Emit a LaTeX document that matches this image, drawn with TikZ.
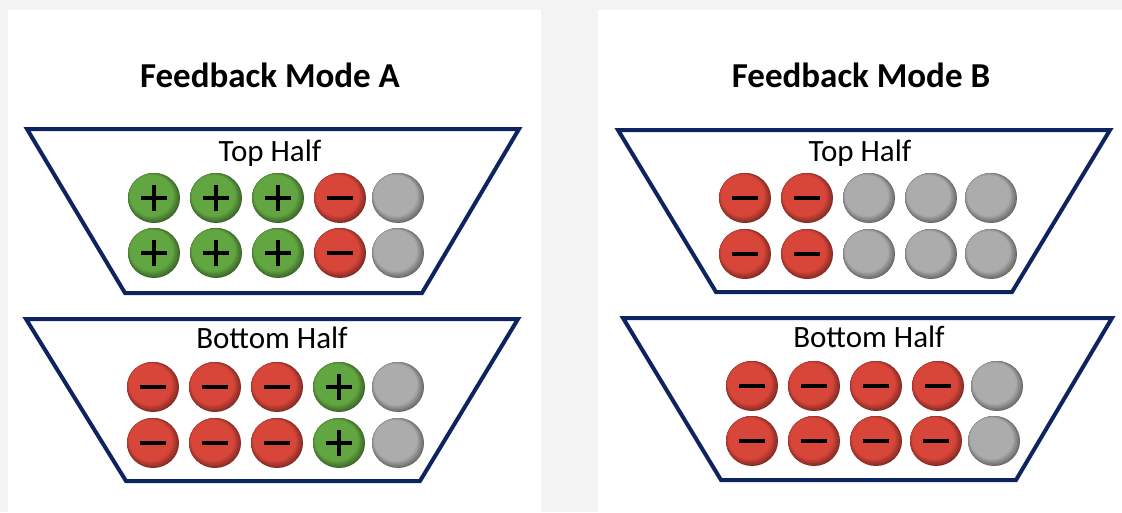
\documentclass[tikz,border=0pt]{standalone}
\usepackage{fontspec}
\setmainfont{Carlito}
\usetikzlibrary{shapes.geometric}

\definecolor{frame}{RGB}{14,36,96}
\definecolor{page}{RGB}{243,243,243}
\definecolor{posgreen}{RGB}{98,166,66}
\definecolor{negred}{RGB}{216,70,58}
\definecolor{neutgray}{RGB}{172,172,172}

% dark rim towards the lower right, flat face
\newcommand\chargeball[1]{%
  \fill[#1!60!black] (path picture bounding box.center) ellipse (27pt and 26pt);
  \fill[#1!70!black] ([shift={(-0.6pt,0.6pt)}]path picture bounding box.center) ellipse (25.8pt and 24.8pt);
  \fill[#1!80!black] ([shift={(-1.2pt,1.2pt)}]path picture bounding box.center) ellipse (24.6pt and 23.6pt);
  \fill[#1!89!black] ([shift={(-1.8pt,1.8pt)}]path picture bounding box.center) ellipse (23.4pt and 22.4pt);
  \fill[#1!96!black] ([shift={(-2.2pt,2.2pt)}]path picture bounding box.center) ellipse (22.4pt and 21.4pt);
  \fill[#1] ([shift={(-2.4pt,2.4pt)}]path picture bounding box.center) ellipse (21.4pt and 20.4pt);}

\tikzset{
  ball/.style={ellipse, minimum width=52pt, minimum height=50pt, inner sep=0pt},
  poscharge/.style={ball,
    path picture={\chargeball{posgreen}
      \draw[line width=3.2pt]
      ([xshift=-13pt]path picture bounding box.center) -- ++(26pt,0)
      ([yshift=-13pt]path picture bounding box.center) -- ++(0,26pt);}},
  negcharge/.style={ball,
    path picture={\chargeball{negred}
      \draw[line width=4pt]
      ([xshift=-13pt]path picture bounding box.center) -- ++(26pt,0);}},
  neutral/.style={ball, path picture={\chargeball{neutgray}}},
  bucket/.style={draw=frame, line width=4pt, line join=miter},
  title/.style={font=\fontsize{35}{40}\selectfont\bfseries, anchor=base},
  half/.style={font=\fontsize{31}{36}\selectfont, anchor=base}
}

\begin{document}
\begin{tikzpicture}[x=1pt, y=-1pt]
      \useasboundingbox (0,0) rectangle (1122,512);
      \fill[page] (0,0) rectangle (1122,512);
      \fill[white] (8,10) rectangle (541,512);
      \fill[white] (598,10) rectangle (1122,512);

      \draw[bucket] (27,129) -- (519,129) -- (422,293) -- (125,293) -- cycle;
      \draw[bucket] (26,319) -- (518,319) -- (420,481) -- (126,481) -- cycle;
      \draw[bucket] (618,130) -- (1110,130) -- (1012,292) -- (716,292) -- cycle;
      \draw[bucket] (623,318) -- (1112,318) -- (1016,480) -- (721,480) -- cycle;

      \path
        (270,87) node[title] (titleA){Feedback Mode A}
        (861,87) node[title] (titleB){Feedback Mode B}
        (270,161) node[half] (topA){Top Half}
        (272,348) node[half] (botA){Bottom Half}
        (860,161) node[half] (topB){Top Half}
        (869,347) node[half] (botB){Bottom Half};

      \path
        (154,198) node[poscharge] (at1){}
        (216,198) node[poscharge] (at2){}
        (278,198) node[poscharge] (at3){}
        (340,198) node[negcharge] (at4){}
        (398,198) node[neutral] (at5){}
        (154,253) node[poscharge] (at6){}
        (216,253) node[poscharge] (at7){}
        (278,253) node[poscharge] (at8){}
        (340,253) node[negcharge] (at9){}
        (398,253) node[neutral] (at10){};

      \path
        (153,387) node[negcharge] (ab1){}
        (215,387) node[negcharge] (ab2){}
        (277,387) node[negcharge] (ab3){}
        (339,387) node[poscharge] (ab4){}
        (398,387) node[neutral] (ab5){}
        (153,443) node[negcharge] (ab6){}
        (215,443) node[negcharge] (ab7){}
        (277,443) node[negcharge] (ab8){}
        (339,443) node[poscharge] (ab9){}
        (398,443) node[neutral] (ab10){};

      \path
        (745,198) node[negcharge] (bt1){}
        (807,198) node[negcharge] (bt2){}
        (869,198) node[neutral] (bt3){}
        (931,198) node[neutral] (bt4){}
        (991,198) node[neutral] (bt5){}
        (745,254) node[negcharge] (bt6){}
        (807,254) node[negcharge] (bt7){}
        (869,254) node[neutral] (bt8){}
        (931,254) node[neutral] (bt9){}
        (991,254) node[neutral] (bt10){};

      \path
        (752,386) node[negcharge] (bb1){}
        (814,386) node[negcharge] (bb2){}
        (876,386) node[negcharge] (bb3){}
        (938,386) node[negcharge] (bb4){}
        (997,386) node[neutral] (bb5){}
        (752,441) node[negcharge] (bb6){}
        (814,441) node[negcharge] (bb7){}
        (876,441) node[negcharge] (bb8){}
        (936,441) node[negcharge] (bb9){}
        (994,441) node[neutral] (bb10){};
    \end{tikzpicture}
\end{document}
